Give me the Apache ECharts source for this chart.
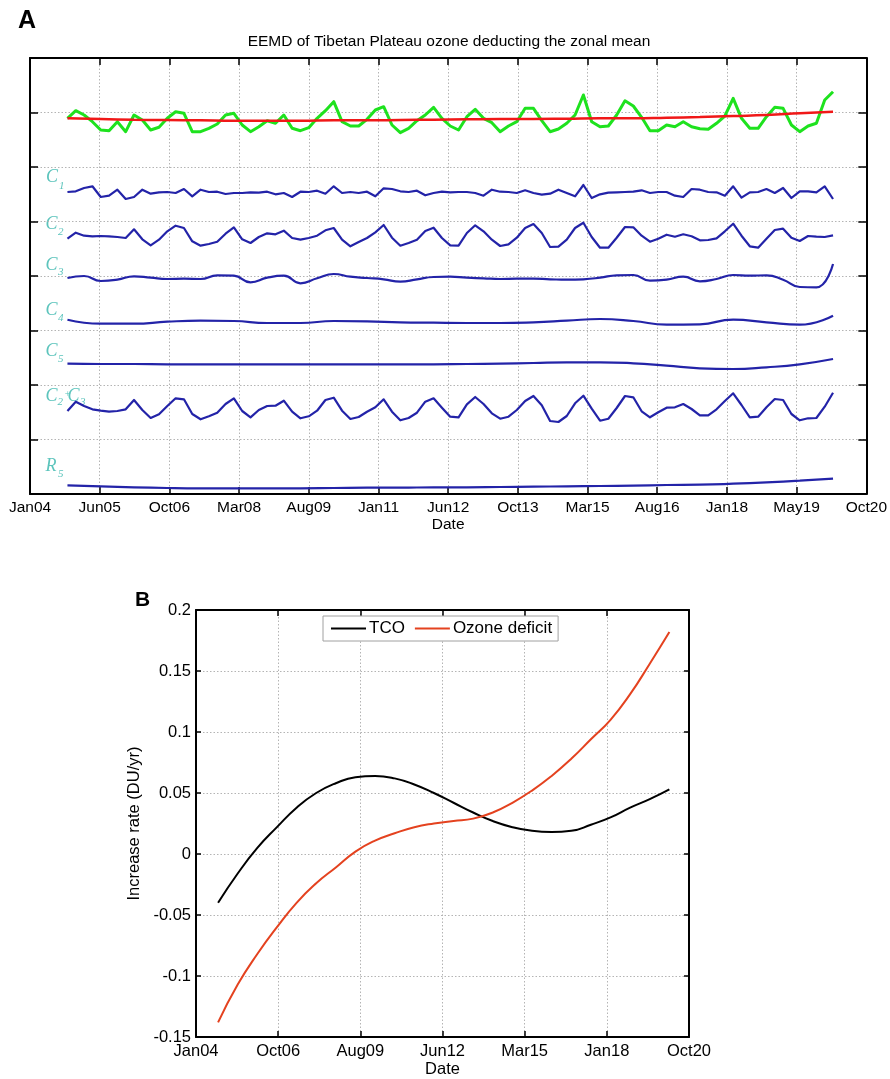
<!DOCTYPE html>
<html><head><meta charset="utf-8">
<script src="https://cdn.jsdelivr.net/npm/echarts@6/dist/echarts.min.js"></script>
<style>html,body{margin:0;padding:0;background:#fff}#c{width:890px;height:1079px}</style>
</head><body><div id="c"></div>
<script>
const FONT = '"Liberation Sans", Arial, Helvetica, sans-serif';
const SERIF = '"Liberation Serif", "DejaVu Serif", serif';

// x = months since Jan 2004
const tickLabelsA = ['Jan04','Jun05','Oct06','Mar08','Aug09','Jan11','Jun12','Oct13','Mar15','Aug16','Jan18','May19','Oct20'];
const tickLabelsB = ['Jan04','Oct06','Aug09','Jun12','Mar15','Jan18','Oct20'];
const firstMonth = 9;          // Oct 2004
const stepFine = 2, stepMid = 4, stepCoarse = 8;

// Panel A: each component is an anomaly drawn around its own stacking baseline (plot units)
const baseOzone = 381, baseC1 = 302, baseC2 = 257, baseC3 = 216, baseC4 = 172, baseC5 = 130, baseC23 = 84, baseR5 = 6;

const ozoneAnom = [-5.3,2.3,-2,-8.7,-17,-17.7,-8.7,-18.7,-2,-7,
 -17,-14.3,-5.3,1.3,-0.3,-18.7,-18.7,-15.3,-11,-2,
 -0.3,-12,-18.7,-13.7,-7.7,-10.3,-2,-15.3,-17.7,-14.7,
 -5.3,2.3,11.3,-8.7,-13,-13,-6.3,3,6.3,-12,
 -19.7,-15.3,-7.7,-2,5.7,-5.3,-13,-17,-3.7,3.7,
 -5.3,-9.7,-18.7,-13,-8.7,4.7,4.7,-7.7,-18.7,-16,
 -10.3,-2,18,-8.7,-13.7,-13,-2,12.3,7,-4.3,
 -17.7,-17.7,-12,-13.7,-8.7,-13.7,-15.7,-16.3,-10.3,-3,
 14.7,-5.3,-15.3,-15.3,-3.7,5.7,4.7,-12,-18.7,-13,
 -10.3,13,21.3];
const trendAnom = [-5.3,-6,-6.7,-7,-7.3,-7.7,-7.7,-7.7,-7.3,-7.3,-7,-6.7,-6.3,-6,-6,-5.7,-5.3,-5.3,-4.7,-4,-3,-2,-0.3,1.3];
const c1 = [0,0.7,4,5.7,-5,-3.7,2.3,-7,-5,2.3,
 -1.7,-0.3,0,-1,3,-4.3,2.3,0,0.3,-2,
 -1,-1,-0.3,-0.7,0.3,-2.3,-1,-5,0.3,0,
 1.3,-1.7,5.7,-1,0,-1,0.3,-4.3,3.7,3,
 0.7,0,1.3,-3.3,-1,0.3,-0.3,0,0,-1,
 -3.7,2.3,0.3,0,-1,1.7,-1,-2.7,-1.7,2.3,
 -1,-4.3,7,-6,-2.3,-0.7,-0.3,0,0.3,1.7,
 -1,0,0,-3.7,-5,3,2.3,0,-0.3,-3.7,
 5.7,-5.7,-0.3,0,3,-1,4,-6,0.7,0.7,
 -0.3,5.7,-7];
const c2 = [-1.7,4.3,1.3,0.7,1,0.7,0,-1,7.7,-2.3,
 -8.3,-2.7,5.7,11.3,9,-4.3,-8.7,-7,-4.7,3.3,
 9.7,-2.3,-6,0,3.7,2.7,6.3,-1,-2.7,-1,
 1.3,6.7,9,-2.7,-9.3,-5,-1,4.7,12,-0.7,
 -8.7,-6,-2.7,6,9.3,-1,-8.3,-8.7,4,11.7,
 5.7,-2.7,-9,-7.3,-0.7,9,13,4,-10,-9.7,
 -2.7,9,14.3,0,-10.7,-10.7,-0.7,10,9.7,1.3,
 -4.7,-1.7,2.3,0.3,2.7,0.7,-3.3,-3,-1.3,5.7,
 13.3,1.3,-9.3,-10.7,-1.7,7,8.3,-0.7,-4,1,
 0.3,0,1.7];
const c3 = [0,2,-3,-1.7,1.7,0.3,-1,-0.7,-1,2.7,
 2.3,-4.3,0.3,2.3,-5.3,-0.3,4,1.3,0,-1.3,
 -3.7,-1.3,1,1.3,0.3,-0.3,-1,-0.7,-0.7,-1.3,
 -1.7,-1.3,0.3,2.7,3,-2.7,-1.7,1.3,-3.3,-1,
 3,2.3,2.7,-1.7,-9,-9.3,14];
const c4 = [2.3,-1.7,-1.7,0.3,1.3,1,-1,-1,1,0.7,-0.3,-0.7,-1,-1,-0.3,1.3,3,1,-2.7,-2.3,2.3,-0.3,-2.7,6.3];
const c5 = [0.3,0,0,-0.3,-0.3,-0.3,-0.3,-0.3,-0.3,-0.3,-0.3,-0.3,0,0.3,1,1.7,1.7,0.7,-1.7,-4.3,-5,-3.3,-0.3,5];
const c23 = [-1,8.3,4,0.7,-0.7,-1.7,-1,0.7,10,0,
 -8,-4.3,4,11.7,10.7,-4,-9.3,-6.3,-2.7,6,
 11.7,-1,-7.3,0,4,4.3,9.3,-1.7,-8.3,-6.3,
 -0.7,10,12.3,-0.7,-9,-7,-1.7,2.7,10.7,-1.7,
 -10.3,-8,-2.7,8.3,11.7,2.3,-6.7,-7.3,5.7,13,
 6,-3.3,-8.7,-6.7,0,9,14,4.7,-11,-12,
 -6,6.7,14.3,1.3,-10.7,-8.7,2,14,12.7,-1.3,
 -7.3,-2.3,2.3,2.7,6,1,-5.3,-5.3,0.7,9,
 16.7,5,-7.3,-6.7,2.7,11,10,-4,-10.3,-8.3,
 -8,3.3,17.3];
const r5 = [2.7,1.7,0.7,0,-0.3,-0.3,-0.3,-0.3,0,0.3,0.3,0.7,0.7,1,1.3,1.7,2,2.3,3,3.3,4.3,5.7,7.3,9.3];

// Panel B: increase rate (DU/yr), every 8 months from Oct 2004
const tcoRate = [-0.040,-0.016,0.005,0.022,0.038,0.050,0.058,0.063,0.064,0.062,0.057,0.050,0.042,0.034,0.027,0.022,0.019,0.018,0.019,0.024,0.030,0.038,0.045,0.053];
const deficitRate = [-0.138,-0.107,-0.082,-0.060,-0.040,-0.024,-0.011,0.002,0.011,0.017,0.022,0.025,0.027,0.029,0.034,0.042,0.052,0.064,0.078,0.094,0.110,0.131,0.156,0.182];

function seq(values, step, base) {
  return values.map((v, i) => [firstMonth + i * step, base + v]);
}

const BLUE = '#2323a8';
const dotted = { show: true, lineStyle: { color: '#b4b4b4', type: [1.5, 2], width: 1 } };
const axLine = { show: true, onZero: false, lineStyle: { color: '#000', width: 2 } };
const tickIn = (len) => ({ show: true, inside: true, length: len, lineStyle: { color: '#000', width: 1.5 } });

function blueLine(name, data, smooth) {
  return { name, type: 'line', xAxisIndex: 0, yAxisIndex: 0, data, symbol: 'none', smooth: smooth,
    lineStyle: { color: BLUE, width: 2.2, join: 'round' }, itemStyle: { color: BLUE }, z: 3 };
}

const chart = echarts.init(document.getElementById('c'), null, { renderer: 'canvas' });

const TEAL = '#5cc4bc';
function lbl(x, y, t, size) {
  return { type: 'text', x, y, style: { text: t, font: 'italic ' + size + 'px ' + SERIF, fill: TEAL, verticalAlign: 'middle' } };
}

chart.setOption({
  animation: false,
  backgroundColor: '#fff',
  textStyle: { fontFamily: FONT },
  grid: [
    { left: 30, top: 58, width: 838, height: 436 },
    { left: 196, top: 610, width: 493, height: 429 }
  ],
  xAxis: [
    { gridIndex: 0, type: 'value', position: 'bottom', min: 0, max: 201, interval: 16.75,
      axisLine: axLine, axisTick: tickIn(7), splitLine: dotted,
      axisLabel: { color: '#000', fontSize: 15.5, fontFamily: FONT, margin: 6,
        formatter: v => tickLabelsA[Math.round(v / 16.75)] },
      name: 'Date', nameLocation: 'middle', nameGap: 21,
      nameTextStyle: { color: '#000', fontSize: 15.5, fontFamily: FONT } },
    { gridIndex: 0, type: 'value', position: 'top', min: 0, max: 201, interval: 16.75,
      axisLine: axLine, axisTick: tickIn(7), splitLine: { show: false }, axisLabel: { show: false } },
    { gridIndex: 1, type: 'value', position: 'bottom', min: 0, max: 201, interval: 33.5,
      axisLine: axLine, axisTick: tickIn(6), splitLine: dotted,
      axisLabel: { color: '#000', fontSize: 16.5, fontFamily: FONT, margin: 6,
        formatter: v => tickLabelsB[Math.round(v / 33.5)] },
      name: 'Date', nameLocation: 'middle', nameGap: 24,
      nameTextStyle: { color: '#000', fontSize: 16.5, fontFamily: FONT } },
    { gridIndex: 1, type: 'value', position: 'top', min: 0, max: 201, interval: 33.5,
      axisLine: axLine, axisTick: tickIn(6), splitLine: { show: false }, axisLabel: { show: false } }
  ],
  yAxis: [
    { gridIndex: 0, type: 'value', position: 'left', min: 0, max: 436, interval: 54.5,
      axisLine: axLine, axisTick: tickIn(8), splitLine: dotted, axisLabel: { show: false } },
    { gridIndex: 0, type: 'value', position: 'right', min: 0, max: 436, interval: 54.5,
      axisLine: axLine, axisTick: tickIn(8), splitLine: { show: false }, axisLabel: { show: false } },
    { gridIndex: 1, type: 'value', position: 'left', min: -0.15, max: 0.2, interval: 0.05,
      axisLine: axLine, axisTick: tickIn(5), splitLine: dotted,
      axisLabel: { color: '#000', fontSize: 16.5, fontFamily: FONT, margin: 5,
        formatter: v => String(+(+v).toFixed(2)) },
      name: 'Increase rate (DU/yr)', nameLocation: 'middle', nameGap: 45, nameRotate: 90,
      nameTextStyle: { color: '#000', fontSize: 16.5, fontFamily: FONT } },
    { gridIndex: 1, type: 'value', position: 'right', min: -0.15, max: 0.2, interval: 0.05,
      axisLine: axLine, axisTick: tickIn(5), splitLine: { show: false }, axisLabel: { show: false } }
  ],
  legend: {
    data: [{ name: 'TCO', icon: 'rect' }, { name: 'Ozone deficit', icon: 'rect' }], left: 323, top: 616,
    padding: [4, 6, 4, 8], itemGap: 10, itemWidth: 35, itemHeight: 2,
    borderColor: '#a0a0a0', borderWidth: 1, backgroundColor: '#fff',
    textStyle: { color: '#000', fontSize: 17, fontFamily: FONT, padding: [0, 0, 0, -2] }
  },
  series: [
    { name: 'Ozone', type: 'line', xAxisIndex: 0, yAxisIndex: 0, data: seq(ozoneAnom, stepFine, baseOzone),
      symbol: 'none', smooth: false, lineStyle: { color: '#1ee21e', width: 3, join: 'round' }, itemStyle: { color: '#1ee21e' }, z: 3 },
    { name: 'Trend', type: 'line', xAxisIndex: 0, yAxisIndex: 0, data: seq(trendAnom, stepCoarse, baseOzone),
      symbol: 'none', smooth: true, lineStyle: { color: '#f01818', width: 2.5 }, itemStyle: { color: '#f01818' }, z: 4 },
    blueLine('C1', seq(c1, stepFine, baseC1), false),
    blueLine('C2', seq(c2, stepFine, baseC2), false),
    blueLine('C3', seq(c3, stepMid, baseC3), true),
    blueLine('C4', seq(c4, stepCoarse, baseC4), true),
    blueLine('C5', seq(c5, stepCoarse, baseC5), true),
    blueLine('C2+C3', seq(c23, stepFine, baseC23), false),
    blueLine('R5', seq(r5, stepCoarse, baseR5), true),
    { name: 'TCO', type: 'line', xAxisIndex: 2, yAxisIndex: 2, data: seq(tcoRate, stepCoarse, 0),
      symbol: 'none', smooth: true, lineStyle: { color: '#000', width: 2 }, itemStyle: { color: '#000' } },
    { name: 'Ozone deficit', type: 'line', xAxisIndex: 2, yAxisIndex: 2, data: seq(deficitRate, stepCoarse, 0),
      symbol: 'none', smooth: true, lineStyle: { color: '#e4421f', width: 2 }, itemStyle: { color: '#e4421f' } }
  ],
  graphic: [
    { type: 'text', x: 18, y: 21, style: { text: 'A', font: 'bold 25px ' + FONT, fill: '#000', verticalAlign: 'middle' } },
    { type: 'text', x: 449, y: 42, style: { text: 'EEMD of Tibetan Plateau ozone deducting the zonal mean', font: '15.5px ' + FONT, fill: '#000', align: 'center', verticalAlign: 'middle' } },
    { type: 'text', x: 135, y: 600, style: { text: 'B', font: 'bold 21px ' + FONT, fill: '#000', verticalAlign: 'middle' } },
    lbl(46, 177.5, 'C', 18), lbl(59, 186, '1', 11),
    lbl(45.5, 224, 'C', 18), lbl(58, 232.5, '2', 11),
    lbl(45.5, 265, 'C', 18), lbl(58, 272.5, '3', 11),
    lbl(45.5, 310, 'C', 18), lbl(58, 318, '4', 11),
    lbl(45.5, 351.5, 'C', 18), lbl(58, 359, '5', 11),
    lbl(45.5, 396, 'C', 18), lbl(57.5, 402, '2', 11), lbl(64, 394.5, '+', 11), lbl(67.5, 396, 'C', 18), lbl(80, 402.5, '3', 11),
    lbl(45.5, 466, 'R', 18), lbl(58, 474, '5', 11)
  ]
});
</script></body></html>
